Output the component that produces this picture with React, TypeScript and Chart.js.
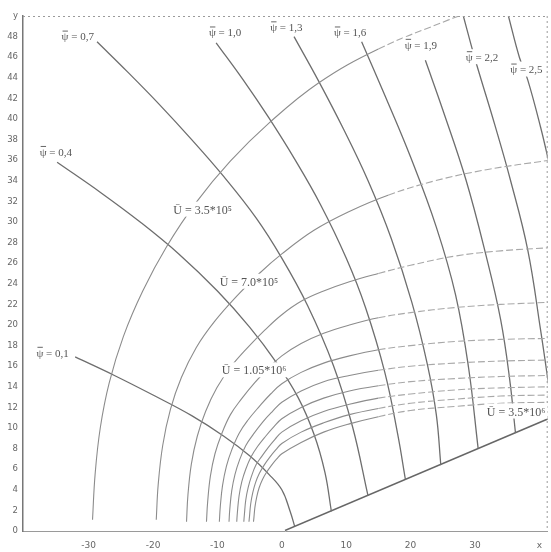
import React, { useEffect, useRef } from 'react';
import { Chart, registerables } from 'chart.js';

Chart.register(...registerables);

// ---- axis ticks ----
const xTickValues = [-30, -20, -10, 0, 10, 20, 30, 40];
const xTickLabels = ['-30', '-20', '-10', '0', '10', '20', '30', 'x'];
const yTickValues = [0, 2, 4, 6, 8, 10, 12, 14, 16, 18, 20, 22, 24, 26, 28, 30, 32, 34, 36, 38, 40, 42, 44, 46, 48, 50];
const yTickLabels = ['0', '2', '4', '6', '8', '10', '12', '14', '16', '18', '20', '22', '24', '26', '28', '30', '32', '34', '36', '38', '40', '42', '44', '46', '48', 'y'];

// ---- wedge surface ----
const wedge: number[][] = [[0.5, 0.05], [41.6, 10.95]];

// ---- streamlines psi ----
const psi01: number[][] = [[-32.1, 16.9], [-26, 15.1], [-20, 13.2], [-14, 11.2], [-9, 9.2], [-5, 7.3], [-2, 5.5], [0, 4.0], [1.3, 1.9], [2.0, 0.45]];
const psi04: number[][] = [[-34.9, 35.8], [-28, 32.8], [-22, 30.0], [-16, 26.9], [-10, 23.3], [-5, 19.8], [-1, 16.5], [2.5, 13.0], [5, 9.4], [6.7, 5.7], [7.7, 1.9]];
const psi07: number[][] = [[-28.7, 47.5], [-24, 44.6], [-19, 41.4], [-14, 38.0], [-9, 34.4], [-4, 30.4], [0, 26.5], [4, 21.9], [8, 16.1], [11, 10.1], [13.4, 3.4]];
const psi10: number[][] = [[-10.2, 47.4], [-6, 43.8], [-2, 40.1], [2, 36.1], [6, 31.7], [10, 26.5], [13, 21.7], [16, 15.4], [18, 9.4], [19.2, 5.0]];
const psi13: number[][] = [[1.9, 48.0], [5.7, 43.7], [9.6, 39.0], [13.4, 34.0], [17, 28.4], [20.2, 22.2], [22.6, 16.2], [24.0, 11.3], [24.7, 6.4]];
const psi16: number[][] = [[12.4, 47.5], [16, 42.3], [20, 36.3], [24, 29.5], [27, 22.9], [29, 15.9], [30.5, 8.0]];
const psi19: number[][] = [[22.3, 45.7], [25.0, 40.9], [28.6, 34.1], [31.7, 26.8], [34.0, 20.5], [35.4, 14.7], [36.3, 9.5]];
const psi22: number[][] = [[28.2, 50], [29.4, 47.2], [30.4, 45.0], [33.1, 39.4], [35.5, 34.1], [38.2, 27.3], [40.2, 19.5], [41.6, 13.5]];
const psi25: number[][] = [[35.2, 50], [36.9, 46.0], [38.2, 43.8], [40.2, 39.2], [41.6, 35.5]];

// ---- lines of constant U ----
const u035: number[][] = [[-29.4, 1.1], [-29.0, 5.5], [-28.2, 10.0], [-26.8, 14.4], [-24.6, 18.9], [-21.6, 23.3], [-17.9, 27.6], [-13.3, 31.9], [-8, 35.9], [-2, 39.6], [5.7, 43.5], [15, 46.8], [25.8, 49.6], [27.5, 50]];
const u070: number[][] = [[-19.5, 1.1], [-19.2, 4.5], [-18.5, 8.3], [-17.3, 11.8], [-15.6, 14.9], [-13.3, 17.8], [-10.5, 20.3], [-7, 22.8], [-3.5, 25.0], [0, 26.9], [5, 29.2], [10.4, 31.0], [16.5, 32.6], [23.8, 34.0], [32, 35.1], [41.6, 36.0]];
const u105: number[][] = [[-14.8, 0.9], [-14.58, 3.5], [-14.05, 6.5], [-13.13, 9.2], [-11.84, 11.6], [-10.09, 13.9], [-7.96, 15.9], [-5.31, 17.8], [-2.65, 19.5], [0, 21.0], [3, 22.3], [6.5, 23.3], [10.5, 24.2], [15, 25.0], [20, 25.8], [27, 26.7], [34, 27.2], [41.6, 27.5]];
const u140: number[][] = [[-11.7, 0.9], [-11.52, 2.8], [-11.1, 5.3], [-10.38, 7.5], [-9.36, 9.4], [-7.98, 11.3], [-6.29, 12.8], [-4.2, 14.4], [-2.09, 15.8], [0, 17.0], [3, 18.2], [6.5, 19.2], [10.5, 20.0], [15, 20.7], [20, 21.2], [27, 21.7], [34, 22.0], [41.6, 22.2]];
const u175: number[][] = [[-9.7, 0.9], [-9.55, 2.4], [-9.21, 4.4], [-8.6, 6.3], [-7.76, 7.9], [-6.62, 9.5], [-5.22, 10.8], [-3.48, 12.1], [-1.74, 13.3], [0, 14.3], [3, 15.4], [6.5, 16.3], [10.5, 17.0], [15, 17.6], [20, 18.0], [27, 18.4], [34, 18.6], [41.6, 18.7]];
const u210: number[][] = [[-8.2, 0.9], [-8.08, 2.1], [-7.78, 3.9], [-7.27, 5.5], [-6.56, 6.9], [-5.59, 8.3], [-4.41, 9.4], [-2.94, 10.6], [-1.47, 11.6], [0, 12.5], [3, 13.6], [6.5, 14.5], [10.5, 15.1], [15, 15.6], [20, 16.0], [27, 16.3], [34, 16.5], [41.6, 16.6]];
const u245: number[][] = [[-7.0, 0.9], [-6.9, 1.8], [-6.64, 3.4], [-6.21, 4.8], [-5.6, 6.0], [-4.77, 7.2], [-3.77, 8.2], [-2.51, 9.2], [-1.25, 10.1], [0, 10.9], [3, 12.0], [6.5, 12.9], [10.5, 13.6], [15, 14.1], [20, 14.5], [27, 14.8], [34, 15.0], [41.6, 15.1]];
const u280: number[][] = [[-5.9, 0.9], [-5.81, 1.6], [-5.6, 3.0], [-5.23, 4.2], [-4.72, 5.3], [-4.02, 6.4], [-3.17, 7.2], [-2.12, 8.1], [-1.06, 8.9], [0, 9.6], [3, 10.7], [6.5, 11.6], [10.5, 12.3], [15, 12.9], [20, 13.3], [27, 13.7], [34, 13.9], [41.6, 14.0]];
const u315: number[][] = [[-5.1, 0.9], [-5.02, 1.4], [-4.84, 2.6], [-4.52, 3.7], [-4.08, 4.7], [-3.48, 5.6], [-2.74, 6.4], [-1.83, 7.2], [-0.91, 7.9], [0, 8.5], [3, 9.6], [6.5, 10.5], [10.5, 11.3], [15, 11.9], [20, 12.4], [27, 12.8], [34, 13.1], [41.6, 13.2]];
const u350: number[][] = [[-4.4, 0.9], [-4.33, 1.3], [-4.18, 2.3], [-3.9, 3.3], [-3.52, 4.2], [-3.0, 5.0], [-2.37, 5.7], [-1.58, 6.4], [-0.79, 7.0], [0, 7.5], [3, 8.6], [6.5, 9.6], [10.5, 10.4], [15, 11.1], [20, 11.7], [27, 12.1], [34, 12.4], [41.6, 12.5]];

const psiLines = [psi01, psi04, psi07, psi10, psi13, psi16, psi19, psi22, psi25];
const uLines = [u035, u070, u105, u140, u175, u210, u245, u280, u315, u350];

// ---- curve labels (psi labels get an overbar on the first glyph) ----
const labelTexts = ['ψ = 0,1', 'ψ = 0,4', 'ψ = 0,7', 'ψ = 1,0', 'ψ = 1,3', 'ψ = 1,6', 'ψ = 1,9', 'ψ = 2,2', 'ψ = 2,5',
  'Ū = 3.5*10⁵', 'Ū = 7.0*10⁵', 'Ū = 1.05*10⁶', 'Ū = 3.5*10⁶'];
const labelX = [-35.6, -35.1, -31.7, -8.8, 0.7, 10.6, 21.6, 31.1, 38.0, -12.3, -5.1, -4.3, 36.4];
const labelY = [17.3, 36.8, 48.0, 48.4, 48.9, 48.4, 47.2, 46.0, 44.8, 31.2, 24.2, 15.6, 11.6];

const labelPlugin = {
  id: 'curveLabels',
  afterDatasetsDraw(chart: any) {
    const { ctx, scales, chartArea } = chart;
    ctx.save();
    ctx.strokeStyle = '#9a9a9a';
    ctx.lineWidth = 1;
    ctx.setLineDash([2, 3]);
    ctx.beginPath();
    ctx.moveTo(chartArea.left, chartArea.top + 0.5);
    ctx.lineTo(chartArea.right, chartArea.top + 0.5);
    ctx.moveTo(chartArea.right - 0.5, chartArea.top);
    ctx.lineTo(chartArea.right - 0.5, chartArea.bottom);
    ctx.stroke();
    ctx.setLineDash([]);
    ctx.textAlign = 'left';
    ctx.textBaseline = 'middle';
    labelTexts.forEach((t, i) => {
      const isU = t.startsWith('Ū');
      ctx.font = isU ? '12px "Liberation Serif"' : '11px "Liberation Serif"';
      const px = scales.x.getPixelForValue(labelX[i]);
      const py = scales.y.getPixelForValue(labelY[i]);
      const w = ctx.measureText(t).width;
      const left = px - w / 2;
      ctx.fillStyle = '#ffffff';
      ctx.fillRect(left - 2, py - 8, w + 4, 15);
      ctx.fillStyle = '#555555';
      ctx.fillText(t, left, py + 1);
      if (!isU) {
        const gw = ctx.measureText('ψ').width;
        ctx.strokeStyle = '#555555';
        ctx.lineWidth = 0.9;
        ctx.beginPath();
        ctx.moveTo(left + 1, py - 5.5);
        ctx.lineTo(left + gw - 0.5, py - 5.5);
        ctx.stroke();
      }
    });
    ctx.restore();
  },
};

export default function App() {
  const ref = useRef<HTMLCanvasElement | null>(null);
  useEffect(() => {
    if (!ref.current) return;
    const dashFrom = 13;
    const datasets: any[] = [];
    uLines.forEach((l) => {
      datasets.push({
        data: l.map((p) => ({ x: p[0], y: p[1] })),
        showLine: true,
        borderColor: '#8c8c8c',
        borderWidth: 1.1,
        pointRadius: 0,
        tension: 0.4,
        segment: {
          borderDash: (c: any) => (c.p0.parsed.x >= dashFrom ? [7, 3] : undefined),
          borderColor: (c: any) => (c.p0.parsed.x >= dashFrom ? '#a8a8a8' : undefined),
        },
      });
    });
    psiLines.forEach((l) => {
      datasets.push({
        data: l.map((p) => ({ x: p[0], y: p[1] })),
        showLine: true,
        borderColor: '#6e6e6e',
        borderWidth: 1.3,
        pointRadius: 0,
        tension: 0.4,
      });
    });
    datasets.push({
      data: wedge.map((p) => ({ x: p[0], y: p[1] })),
      showLine: true,
      borderColor: '#666666',
      borderWidth: 1.5,
      pointRadius: 0,
    });
    const chart = new Chart(ref.current, {
      type: 'scatter',
      data: { datasets },
      plugins: [labelPlugin],
      options: {
        animation: false,
        responsive: true,
        maintainAspectRatio: false,
        layout: { padding: { top: 16, right: 1, left: 0, bottom: 0 } },
        plugins: { legend: { display: false }, tooltip: { enabled: false } },
        scales: {
          x: {
            type: 'linear',
            min: -40.2,
            max: 41.3,
            grid: { display: false, drawTicks: false },
            border: { display: true, color: '#9a9a9a', dash: [2, 2], width: 1 },
            afterBuildTicks: (s: any) => { s.ticks = xTickValues.map((v) => ({ value: v })); },
            afterFit: (s: any) => { s.height = 21; },
            ticks: {
              padding: 9,
              color: '#666',
              font: { family: 'DejaVu Sans', size: 9 },
              maxRotation: 0,
              autoSkip: false,
              callback: (v: any) => { const i = xTickValues.indexOf(v); return i >= 0 ? xTickLabels[i] : ''; },
            },
          },
          y: {
            type: 'linear',
            min: 0,
            max: 50,
            grid: { display: false, drawTicks: false },
            border: { display: true, color: '#777', width: 1.5 },
            afterBuildTicks: (s: any) => { s.ticks = yTickValues.map((v) => ({ value: v })); },
            afterFit: (s: any) => { s.width = 23; },
            ticks: {
              padding: 5,
              color: '#666',
              font: { family: 'DejaVu Sans', size: 8.5 },
              autoSkip: false,
              callback: (v: any) => { const i = yTickValues.indexOf(v); return i >= 0 ? yTickLabels[i] : ''; },
            },
          },
        },
      } as any,
    });
    return () => chart.destroy();
  }, []);
  return (
    <div style={{ position: 'absolute', left: 0, top: 0, width: 551, height: 552, background: '#fff' }}>
      <canvas ref={ref} />
    </div>
  );
}
